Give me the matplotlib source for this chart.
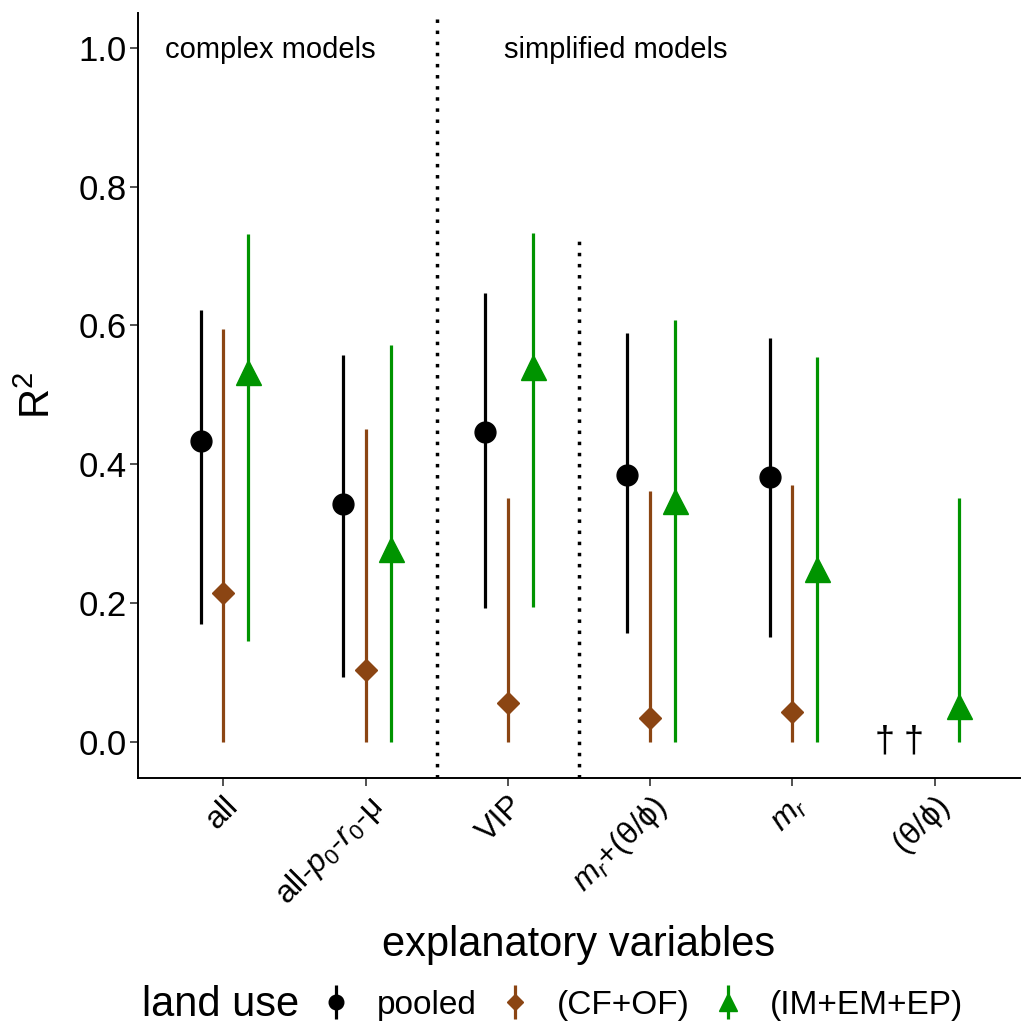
import numpy as np
import matplotlib
matplotlib.use("Agg")
import matplotlib.pyplot as plt

plt.rcParams['font.family'] = ['Liberation Sans', 'DejaVu Sans']
plt.rcParams['mathtext.fontset'] = 'custom'
plt.rcParams['mathtext.rm'] = 'Liberation Sans'
plt.rcParams['mathtext.it'] = 'Liberation Sans:italic'

# categories on the x axis
variables = ['all', r'all-$p_0$-$r_0$-μ', 'VIP', r'$m_r$+(θ/ϕ)', r'$m_r$', '(θ/ϕ)']

# R2 estimates with lower / upper bounds (nan = not available)
pooled = [0.434, 0.343, 0.447, 0.385, 0.381, np.nan]
pooled_lo = [0.170, 0.094, 0.193, 0.157, 0.151, np.nan]
pooled_hi = [0.622, 0.558, 0.647, 0.589, 0.582, np.nan]

cfof = [0.215, 0.104, 0.056, 0.034, 0.043, np.nan]
cfof_lo = [0.0, 0.0, 0.0, 0.0, 0.0, np.nan]
cfof_hi = [0.595, 0.451, 0.352, 0.362, 0.370, np.nan]

imemep = [0.533, 0.278, 0.540, 0.347, 0.249, 0.052]
imemep_lo = [0.146, 0.0, 0.195, 0.0, 0.0, 0.0]
imemep_hi = [0.732, 0.572, 0.733, 0.608, 0.555, 0.352]

series = [
    ('pooled', pooled, pooled_lo, pooled_hi, 'black', 'o', 15, -0.16),
    ('(CF+OF)', cfof, cfof_lo, cfof_hi, '#8B4513', 'D', 11, 0.0),
    ('(IM+EM+EP)', imemep, imemep_lo, imemep_hi, '#009400', '^', 18, 0.175),
]

fig = plt.figure(figsize=(10.24, 10.32), dpi=100)
ax = fig.add_axes([0.1348, 0.2461, 0.8612, 0.7413])

x = np.arange(1, len(variables) + 1)
handles = []
for name, val, lo, hi, col, mk, ms, off in series:
    val = np.array(val)
    lo = np.array(lo)
    hi = np.array(hi)
    h = ax.errorbar(x + off, val, yerr=[val - lo, hi - val], fmt=mk, color=col,
                    ecolor=col, elinewidth=2.3, markersize=ms, capsize=0,
                    label=name, zorder=3)
    handles.append(h)

# missing values marked with daggers
for xx in [x[5] - 0.35, x[5] - 0.15]:
    ax.text(xx, 0.0, '†', ha='center', va='center', fontsize=26, color='black')

ax.axvline(2.5, color='black', linestyle=(0, (1, 2.2)), linewidth=2.5)
ax.plot([3.5, 3.5], [-0.052, 0.725], color='black', linestyle=(0, (1, 2.2)), linewidth=2.5)

ax.text(1.33, 0.997, 'complex models', ha='center', va='center', fontsize=21)
ax.text(3.76, 0.997, 'simplified models', ha='center', va='center', fontsize=21)

ax.set_xlim(0.4, 6.6)
ax.set_ylim(-0.052, 1.05)
ax.set_yticks([0.0, 0.2, 0.4, 0.6, 0.8, 1.0])
ax.set_yticklabels(['0.0', '0.2', '0.4', '0.6', '0.8', '1.0'], fontsize=25)
ax.set_xticks(x)
ax.set_xticklabels(variables, rotation=45, ha='right', va='top',
                   rotation_mode='anchor', fontsize=23)
ax.tick_params(length=6, width=1.2, color='#333333', pad=3)
ax.tick_params(axis='y', pad=2)
ax.spines['top'].set_visible(False)
ax.spines['right'].set_visible(False)
ax.spines['left'].set_linewidth(1.4)
ax.spines['bottom'].set_linewidth(1.4)

ax.set_ylabel('R$^2$', fontsize=30, labelpad=14)
ax.set_xlabel('explanatory variables', fontsize=30, labelpad=10)

leg = fig.legend(handles=handles, labels=[s[0] for s in series], loc='center left',
                 bbox_to_anchor=(0.313, 0.026), ncol=3, frameon=False, fontsize=24,
                 handlelength=0.9, handletextpad=0.8, columnspacing=0.7,
                 markerscale=0.7, borderpad=0, borderaxespad=0)
fig.text(0.139, 0.026, 'land use', fontsize=30, ha='left', va='center')

fig.savefig('out.png', dpi=100)
